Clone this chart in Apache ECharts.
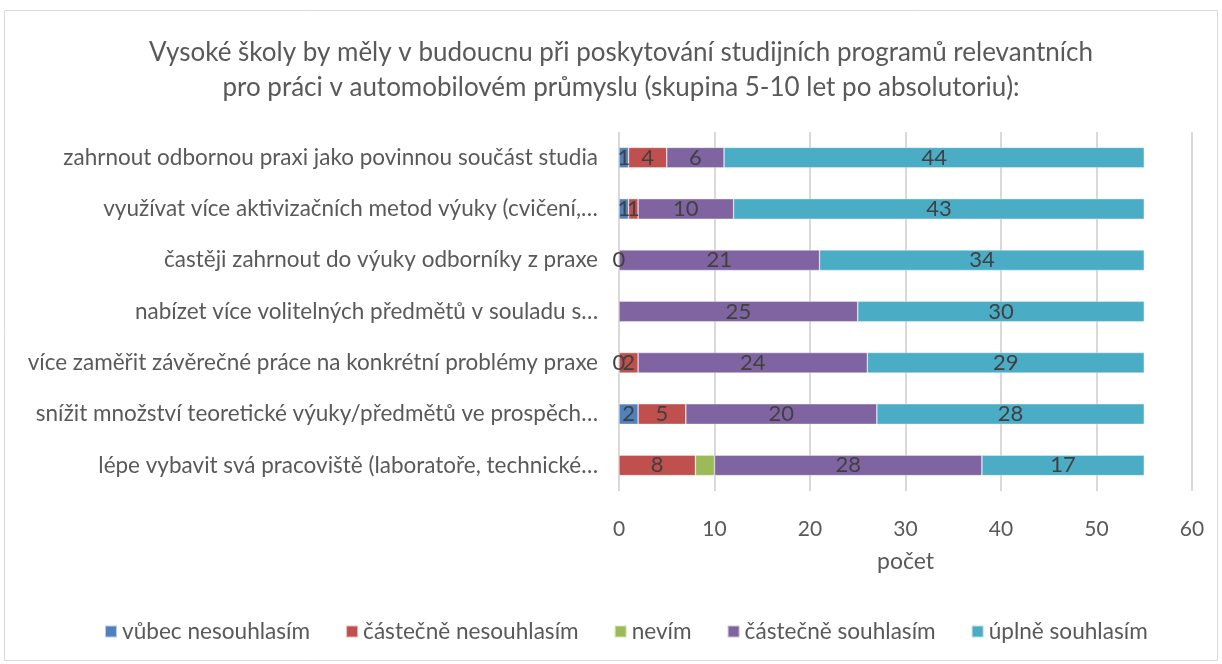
<!DOCTYPE html>
<html>
<head>
<meta charset="utf-8">
<script src="https://cdn.jsdelivr.net/npm/echarts@6/dist/echarts.min.js"></script>
<style>
  html, body { margin: 0; padding: 0; background: #fff; }
  #chart { width: 1222px; height: 664px; }
</style>
</head>
<body>
<div id="chart"></div>
<script>
// Survey answers: count of respondents per statement and answer option
const categories = [
  'zahrnout odbornou praxi jako povinnou součást studia',
  'využívat více aktivizačních metod výuky (cvičení,…',
  'častěji zahrnout do výuky odborníky z praxe',
  'nabízet více volitelných předmětů v souladu s…',
  'více zaměřit závěrečné práce na konkrétní problémy praxe',
  'snížit množství teoretické výuky/předmětů ve prospěch…',
  'lépe vybavit svá pracoviště (laboratoře, technické…'
];
const seriesNames = ['vůbec nesouhlasím', 'částečně nesouhlasím', 'nevím', 'částečně souhlasím', 'úplně souhlasím'];
const vubecNesouhlasim    = [1, 1, 0, null, 0, 2, null];
const castecneNesouhlasim = [4, 1, null, null, 2, 5, 8];
const nevim               = [null, null, null, null, null, null, 2];
const castecneSouhlasim   = [6, 10, 21, 25, 24, 20, 28];
const uplneSouhlasim      = [44, 43, 34, 30, 29, 28, 17];
const xTicks = [0, 10, 20, 30, 40, 50, 60];

const colors = ['#4F81BD', '#C0504D', '#9BBB59', '#8064A2', '#4BACC6'];
const font = 'Lato, "Open Sans", sans-serif';

// the "nevím" value in the last row carries no label
const nevimData = nevim.map(v => (v === null ? null : { value: v, label: { show: false } }));

const allData = [vubecNesouhlasim, castecneNesouhlasim, nevimData, castecneSouhlasim, uplneSouhlasim];

const chart = echarts.init(document.getElementById('chart'), null, { renderer: 'canvas' });
chart.setOption({
  animation: false,
  color: colors,
  textStyle: { fontFamily: font },
  title: {
    text: 'Vysoké školy by měly v budoucnu při poskytování studijních programů relevantních\npro práci v automobilovém průmyslu (skupina 5-10 let po absolutoriu):',
    left: 616,
    textAlign: 'center',
    top: 30,
    textStyle: { fontFamily: font, fontSize: 26, fontWeight: 'normal', color: '#595959', lineHeight: 35 }
  },
  graphic: [{
    type: 'rect',
    shape: { x: 4.5, y: 10.5, width: 1213, height: 650 },
    style: { fill: 'none', stroke: '#d9d9d9', lineWidth: 1 },
    silent: true
  }],
  grid: { left: 619, right: 30, top: 132, bottom: 173, containLabel: false },
  legend: {
    bottom: 16,
    left: 99,
    itemWidth: 12,
    itemHeight: 12,
    itemGap: 35,
    icon: 'rect',
    data: seriesNames,
    textStyle: { fontFamily: font, fontSize: 22.6, color: '#595959' }
  },
  xAxis: {
    type: 'value',
    min: xTicks[0],
    max: xTicks[xTicks.length - 1],
    interval: 10,
    name: 'počet',
    nameLocation: 'middle',
    nameGap: 59,
    nameTextStyle: { fontFamily: font, fontSize: 23, color: '#595959' },
    axisLine: { show: false },
    axisTick: { show: false },
    axisLabel: { margin: 28, fontSize: 21, color: '#595959', fontFamily: font },
    splitLine: { show: true, lineStyle: { color: '#d9d9d9', width: 2 } }
  },
  yAxis: {
    type: 'category',
    inverse: true,
    data: categories,
    axisLine: { show: false },
    axisTick: { show: false },
    axisLabel: { margin: 21, fontSize: 22.5, color: '#595959', fontFamily: font }
  },
  series: seriesNames.map((name, i) => ({
    name: name,
    type: 'bar',
    stack: 'total',
    barWidth: '40%',
    data: allData[i],
    itemStyle: { color: colors[i], borderColor: 'rgba(255,255,255,0.6)', borderWidth: 0.6 },
    label: {
      show: true,
      position: 'inside',
      color: '#404040',
      fontSize: 22,
      fontFamily: font
    }
  }))
});
</script>
</body>
</html>
